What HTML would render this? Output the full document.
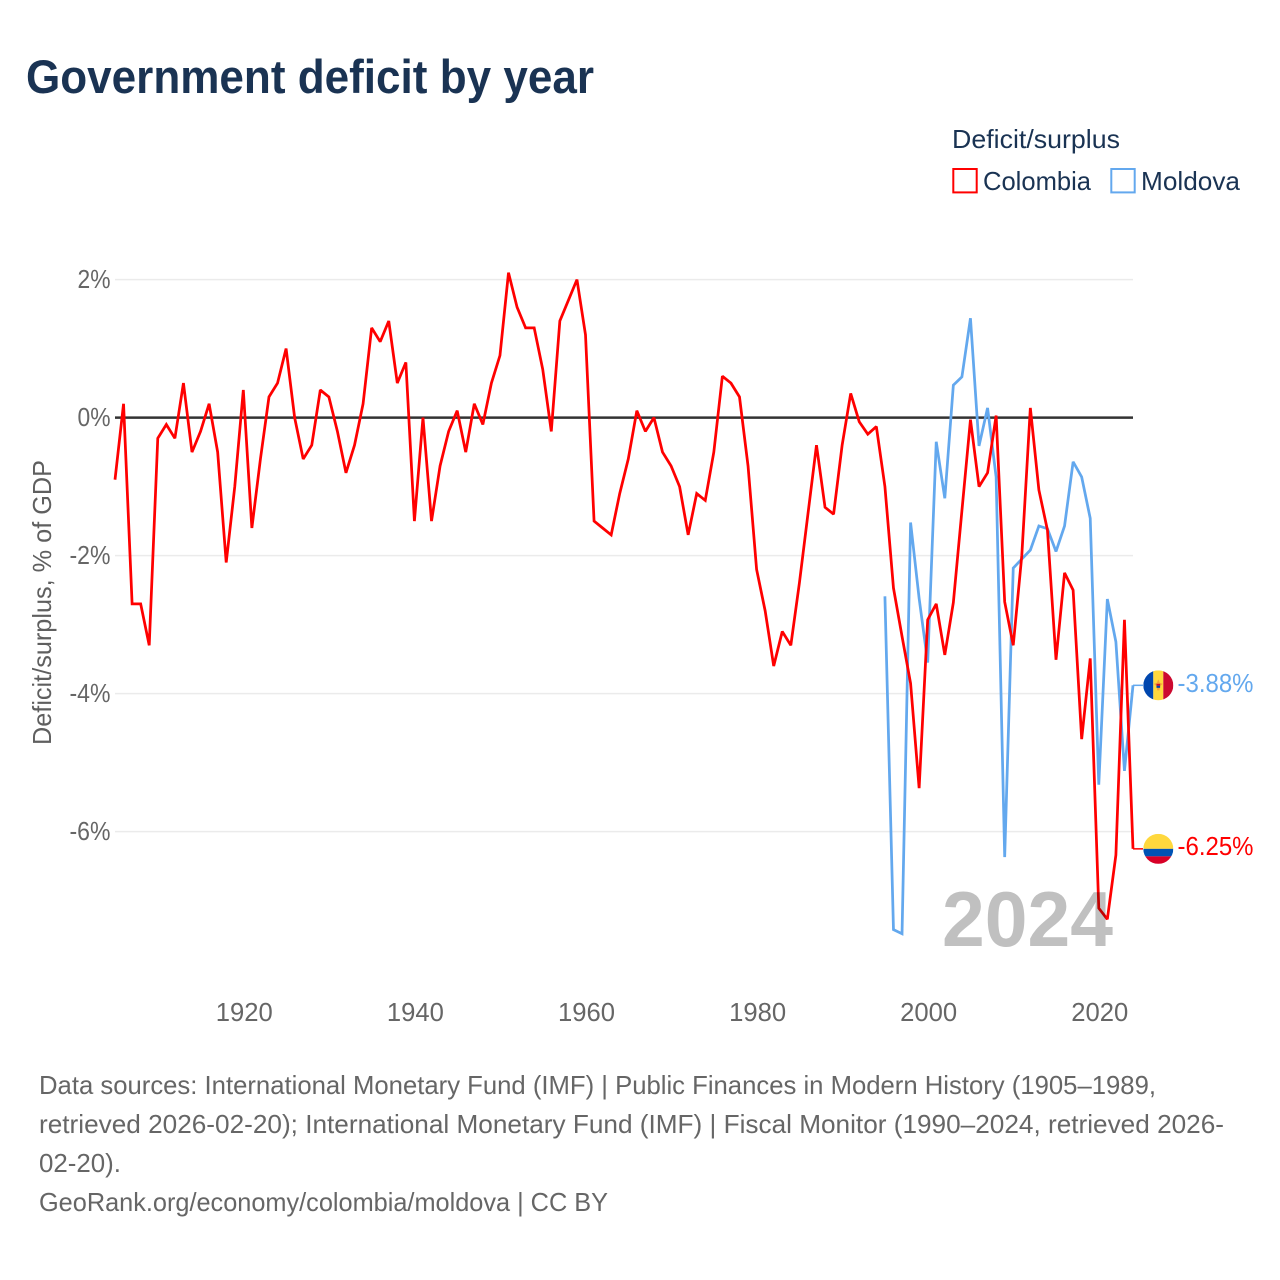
<!DOCTYPE html>
<html lang="en">
<head>
<meta charset="utf-8">
<title>Government deficit by year</title>
<style>
  html, body { margin: 0; padding: 0; background: #ffffff; }
  svg { display: block; font-family: "Liberation Sans", sans-serif; }
</style>
</head>
<body>
<svg id="chart" xmlns="http://www.w3.org/2000/svg" width="1280" height="1280" viewBox="0 0 1280 1280">
  <defs>
    <clipPath id="flag-clip"><circle cx="0" cy="0" r="15"></circle></clipPath>
  </defs>
  <rect x="0" y="0" width="1280" height="1280" fill="#ffffff"></rect>

  <text x="26" y="93" font-size="47" font-weight="700" fill="#1a3353" textLength="568" lengthAdjust="spacingAndGlyphs">Government deficit by year</text>

  <g>
    <text x="952" y="148" font-size="26" fill="#1a3353" textLength="168" lengthAdjust="spacingAndGlyphs">Deficit/surplus</text>
    <g>
      <rect x="953.3" y="169" width="23.4" height="23.4" fill="none" stroke="#ff0000" stroke-width="2"></rect>
      <text x="983" y="190" font-size="26" fill="#1a3353" textLength="108" lengthAdjust="spacingAndGlyphs">Colombia</text>
    </g>
    <g>
      <rect x="1111.3" y="169" width="23.4" height="23.4" fill="none" stroke="#63a8ee" stroke-width="2"></rect>
      <text x="1141" y="190" font-size="26" fill="#1a3353" textLength="99" lengthAdjust="spacingAndGlyphs">Moldova</text>
    </g>
  </g>

  <text transform="translate(51,745) rotate(-90)" x="0" y="0" font-size="26" fill="#5f5f5f" textLength="285" lengthAdjust="spacingAndGlyphs">Deficit/surplus, % of GDP</text>

  <g id="grid"></g>
  <g id="y-ticks"></g>
  <g id="x-ticks"></g>
  <g id="series"></g>

  <text x="942" y="946" font-size="78" font-weight="700" fill="#c0c0c0" textLength="171" lengthAdjust="spacingAndGlyphs" style="mix-blend-mode:multiply">2024</text>

  <g id="end-marks">
    <g id="flag-moldova">
      <g clip-path="url(#flag-clip)">
        <rect x="-15" y="-15" width="10" height="30" fill="#0046ae"></rect>
        <rect x="-5" y="-15" width="10" height="30" fill="#ffd83d"></rect>
        <rect x="5" y="-15" width="10" height="30" fill="#cc092f"></rect>
        <polygon points="0,-6 1.5,-2.5 4.5,-1.5 2,0.5 1,5 -1,5 -2,0.5 -4.5,-1.5 -1.5,-2.5" fill="#f5a33a"></polygon>
        <rect x="-1.8" y="-1.5" width="3.6" height="2" fill="#cc092f"></rect>
        <rect x="-1.8" y="0.5" width="3.6" height="2" fill="#0046ae"></rect>
      </g>
    </g>
    <g id="flag-colombia">
      <g clip-path="url(#flag-clip)">
        <rect x="-15" y="-15" width="30" height="15" fill="#ffd83d"></rect>
        <rect x="-15" y="0" width="30" height="7.5" fill="#0052b4"></rect>
        <rect x="-15" y="7.5" width="30" height="7.5" fill="#d80027"></rect>
      </g>
    </g>
  </g>

  <g font-size="26" fill="#666666">
    <text x="39" y="1094" textLength="1117" lengthAdjust="spacingAndGlyphs">Data sources: International Monetary Fund (IMF) | Public Finances in Modern History (1905–1989,</text>
    <text x="39" y="1133" textLength="1185" lengthAdjust="spacingAndGlyphs">retrieved 2026-02-20); International Monetary Fund (IMF) | Fiscal Monitor (1990–2024, retrieved 2026-</text>
    <text x="39" y="1172" textLength="82" lengthAdjust="spacingAndGlyphs">02-20).</text>
    <text x="39" y="1211" textLength="569" lengthAdjust="spacingAndGlyphs">GeoRank.org/economy/colombia/moldova | CC BY</text>
  </g>
</svg>

<script>
const colombiaStartYear = 1905;
const colombiaValues = [
  -0.9, 0.2, -2.7, -2.7, -3.3, -0.3, -0.1, -0.3, 0.5, -0.5,
  -0.2, 0.2, -0.5, -2.1, -1.0, 0.4, -1.6, -0.6, 0.3, 0.5,
  1.0, 0.0, -0.6, -0.4, 0.4, 0.3, -0.2, -0.8, -0.4, 0.2,
  1.3, 1.1, 1.4, 0.5, 0.8, -1.5, 0.0, -1.5, -0.7, -0.2,
  0.1, -0.5, 0.2, -0.1, 0.5, 0.9, 2.1, 1.6, 1.3, 1.3,
  0.7, -0.2, 1.4, 1.7, 2.0, 1.2, -1.5, -1.6, -1.7, -1.1,
  -0.6, 0.1, -0.2, 0.0, -0.5, -0.7, -1.0, -1.7, -1.1, -1.2,
  -0.5, 0.6, 0.5, 0.3, -0.7, -2.2, -2.8, -3.6, -3.1, -3.3,
  -2.4, -1.4, -0.4, -1.3, -1.4, -0.4, 0.35, -0.06, -0.24, -0.13,
  -1.0, -2.47, -3.17, -3.85, -5.37, -2.93, -2.7, -3.44, -2.68, -1.35,
  -0.03, -1.0, -0.8, 0.03, -2.67, -3.3, -2.0, 0.14, -1.05, -1.63,
  -3.51, -2.25, -2.5, -4.66, -3.49, -7.11, -7.27, -6.34, -2.93, -6.25
];
const moldovaStartYear = 1995;
const moldovaValues = [
  -2.59, -7.42, -7.48, -1.52, -2.62, -3.55, -0.35, -1.17, 0.47, 0.59,
  1.44, -0.41, 0.14, -0.86, -6.37, -2.18, -2.05, -1.92, -1.57, -1.61,
  -1.94, -1.57, -0.64, -0.86, -1.46, -5.32, -2.63, -3.25, -5.12, -3.88
];
const gridValues = [2, -2, -4, -6];
const yTickValues = [2, 0, -2, -4, -6];
const yTickLabels = ["2%", "0%", "-2%", "-4%", "-6%"];
const xTickYears = [1920, 1940, 1960, 1980, 2000, 2020];
const xTickLabels = ["1920", "1940", "1960", "1980", "2000", "2020"];

const SVG_NS = "http://www.w3.org/2000/svg";
const plotLeft = 115;
const plotRight = 1133;
const firstYear = 1905;
const lastYear = 2024;
const yZero = 417.6;
const pxPerUnit = 69;

function xScale(year) {
  return plotLeft + (year - firstYear) * (plotRight - plotLeft) / (lastYear - firstYear);
}
function yScale(value) {
  return yZero - value * pxPerUnit;
}
function makeEl(tag, attrs) {
  const el = document.createElementNS(SVG_NS, tag);
  Object.keys(attrs).forEach(function (k) { el.setAttribute(k, attrs[k]); });
  return el;
}

const gridGroup = document.getElementById("grid");
gridValues.forEach(function (v) {
  const line = makeEl("line", {
    x1: plotLeft, x2: plotRight, y1: yScale(v), y2: yScale(v),
    stroke: "#ebebeb", "stroke-width": 1.5
  });
  
  
  gridGroup.appendChild(line);
});

const yTickGroup = document.getElementById("y-ticks");
yTickValues.forEach(function (v, i) {
  const label = yTickLabels[i];
  const t = makeEl("text", {
    x: 110.5, y: yScale(v) + 8.4, "text-anchor": "end", "font-size": 25.5, fill: "#666666",
    textLength: label.charAt(0) === "-" ? 41 : 33, lengthAdjust: "spacingAndGlyphs"
  });
  
  
  t.textContent = label;
  yTickGroup.appendChild(t);
});

const xTickGroup = document.getElementById("x-ticks");
xTickYears.forEach(function (year, i) {
  const t = makeEl("text", {
    x: xScale(year) + 1, y: 1021, "text-anchor": "middle", "font-size": 25.5, fill: "#666666",
    textLength: 57, lengthAdjust: "spacingAndGlyphs"
  });
  
  
  t.textContent = xTickLabels[i];
  xTickGroup.appendChild(t);
});

function pathFor(values, startYear) {
  return values.map(function (v, i) {
    return (i === 0 ? "M" : "L") + xScale(startYear + i).toFixed(2) + " " + yScale(v).toFixed(2);
  }).join(" ");
}

const seriesGroup = document.getElementById("series");

const zeroLine = makeEl("line", {
  x1: plotLeft, x2: plotRight, y1: yScale(0), y2: yScale(0),
  stroke: "#333333", "stroke-width": 2.5
});


seriesGroup.appendChild(zeroLine);

const moldovaLine = makeEl("path", {
  d: pathFor(moldovaValues, moldovaStartYear), fill: "none", stroke: "#63a8ee",
  "stroke-width": 2.75, "stroke-linejoin": "miter", "stroke-miterlimit": 2
});


seriesGroup.appendChild(moldovaLine);

const colombiaLine = makeEl("path", {
  d: pathFor(colombiaValues, colombiaStartYear), fill: "none", stroke: "#ff0000",
  "stroke-width": 2.75, "stroke-linejoin": "miter", "stroke-miterlimit": 2
});


seriesGroup.appendChild(colombiaLine);

const endGroup = document.getElementById("end-marks");

const moldovaEnd = moldovaValues[moldovaValues.length - 1];
const moldovaEndY = yScale(moldovaEnd);
document.getElementById("flag-moldova").setAttribute("transform", "translate(1158.3," + moldovaEndY + ")");
const moldovaConnector = makeEl("line", {
  x1: plotRight, x2: 1143, y1: moldovaEndY, y2: moldovaEndY, stroke: "#63a8ee", "stroke-width": 1.5
});


endGroup.insertBefore(moldovaConnector, endGroup.firstChild);
const moldovaValueLabel = makeEl("text", {
  x: 1177.5, y: moldovaEndY + 6.5, "font-size": 25.5, fill: "#63a8ee",
  textLength: 76, lengthAdjust: "spacingAndGlyphs"
});


moldovaValueLabel.textContent = moldovaEnd.toFixed(2) + "%";
endGroup.appendChild(moldovaValueLabel);

const colombiaEnd = colombiaValues[colombiaValues.length - 1];
const colombiaEndY = yScale(colombiaEnd);
document.getElementById("flag-colombia").setAttribute("transform", "translate(1158.3," + colombiaEndY + ")");
const colombiaConnector = makeEl("line", {
  x1: plotRight, x2: 1143, y1: colombiaEndY, y2: colombiaEndY, stroke: "#ff0000", "stroke-width": 1.5
});


endGroup.insertBefore(colombiaConnector, endGroup.firstChild);
const colombiaValueLabel = makeEl("text", {
  x: 1177.5, y: colombiaEndY + 6, "font-size": 25.5, fill: "#ff0000",
  textLength: 76, lengthAdjust: "spacingAndGlyphs"
});


colombiaValueLabel.textContent = colombiaEnd.toFixed(2) + "%";
endGroup.appendChild(colombiaValueLabel);
</script>
</body>
</html>
